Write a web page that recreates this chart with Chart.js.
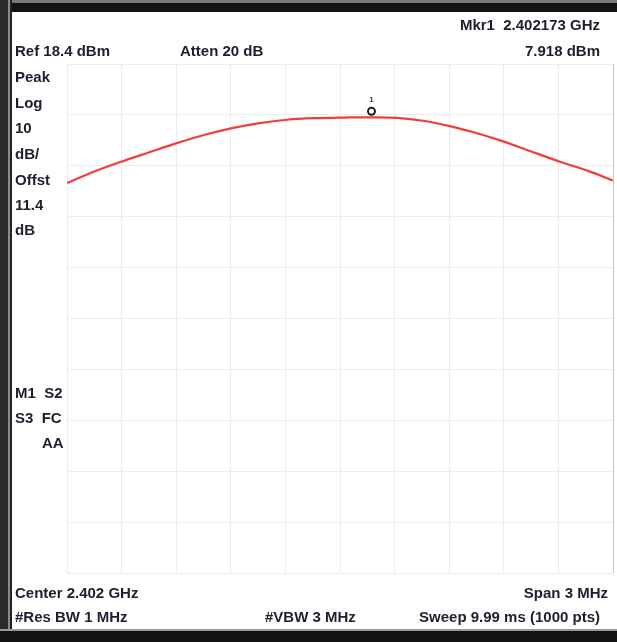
<!DOCTYPE html>
<html>
<head>
<meta charset="utf-8">
<script src="https://cdn.jsdelivr.net/npm/chart.js@4.4.1/dist/chart.umd.min.js"></script>
<style>
  html, body { margin: 0; padding: 0; background: #fff; }
  #wrap { position: relative; width: 617px; height: 642px; overflow: hidden; background: #fff; }
  #myChart { position: absolute; left: 0; top: 0; }
  .frameTop { position: absolute; left: 0; top: 0; width: 617px; height: 3px; background: #7a7a7a; }
  .frameTop2 { position: absolute; left: 0; top: 3px; width: 617px; height: 9px; background: #121212; }
  .frameLeft { position: absolute; left: 0; top: 0; width: 8px; height: 642px; background: #2a2a2a; }
  .frameLeft2 { position: absolute; left: 8px; top: 0; width: 2px; height: 642px; background: #8a8a8a; }
  .frameLeft3 { position: absolute; left: 10px; top: 0; width: 2px; height: 642px; background: #222; }
  .frameBot { position: absolute; left: 0; top: 629px; width: 617px; height: 2px; background: #9a9a9a; }
  .frameBot2 { position: absolute; left: 0; top: 631px; width: 617px; height: 11px; background: #121212; }
  .t { position: absolute; font-family: "Liberation Sans", Arial, sans-serif; font-weight: bold;
       font-size: 15px; color: #1d1f2e; white-space: nowrap; line-height: 18px; }
  .r { text-align: right; }
</style>
</head>
<body>
<div id="wrap">
  <canvas id="myChart" width="617" height="642"></canvas>
  <div class="frameTop"></div><div class="frameTop2"></div>
  <div class="frameLeft"></div><div class="frameLeft2"></div><div class="frameLeft3"></div>
  <div class="frameBot"></div><div class="frameBot2"></div>

  <div class="t r" style="right:17px; top:16px;">Mkr1&nbsp; 2.402173 GHz</div>
  <div class="t" style="left:15px; top:42px;">Ref 18.4 dBm</div>
  <div class="t" style="left:180px; top:42px;">Atten 20 dB</div>
  <div class="t r" style="right:17px; top:42px;">7.918 dBm</div>

  <div class="t" style="left:15px; top:68px;">Peak</div>
  <div class="t" style="left:15px; top:94px;">Log</div>
  <div class="t" style="left:15px; top:119px;">10</div>
  <div class="t" style="left:15px; top:145px;">dB/</div>
  <div class="t" style="left:15px; top:171px;">Offst</div>
  <div class="t" style="left:15px; top:196px;">11.4</div>
  <div class="t" style="left:15px; top:221px;">dB</div>

  <div class="t" style="left:15px; top:384px;">M1&nbsp; S2</div>
  <div class="t" style="left:15px; top:409px;">S3&nbsp; FC</div>
  <div class="t" style="left:42px; top:434px;">AA</div>

  <div class="t" style="left:15px; top:584px;">Center 2.402 GHz</div>
  <div class="t r" style="right:9px; top:584px;">Span 3 MHz</div>
  <div class="t" style="left:15px; top:608px;">#Res BW 1 MHz</div>
  <div class="t" style="left:265px; top:608px;">#VBW 3 MHz</div>
  <div class="t r" style="right:17px; top:608px;">Sweep 9.99 ms (1000 pts)</div>
</div>
<script>
// trace, frequency in MHz, level in dBm
let freqs = [2400.5, 2400.643, 2400.797, 2400.956, 2401.099, 2401.247, 2401.407, 2401.56,
             2401.709, 2401.852, 2402.0, 2402.055, 2402.173, 2402.313, 2402.456, 2402.604,
             2402.753, 2402.896, 2403.044, 2403.209, 2403.374, 2403.5];
let levels = [-5.0, -2.8, -0.8, 1.1, 2.8, 4.4, 5.8, 6.8,
              7.45, 7.75, 7.85, 7.9, 7.918, 7.8, 7.25, 6.2,
              4.8, 3.2, 1.3, -0.8, -2.75, -4.5];

// 10 divisions each way: span 3 MHz, 10 dB/div from ref 18.4 dBm
let xTicks = [2400.5, 2400.8, 2401.1, 2401.4, 2401.7, 2402.0, 2402.3, 2402.6, 2402.9, 2403.2, 2403.5];
let yTicks = [-81.6, -71.6, -61.6, -51.6, -41.6, -31.6, -21.6, -11.6, -1.6, 8.4, 18.4];

let mkrFreq = 2402.173;
let mkrLevel = 7.918;

const markerPlugin = {
  id: 'marker1',
  afterDatasetsDraw(chart) {
    const c = chart.ctx;
    const px = chart.scales.x.getPixelForValue(mkrFreq);
    const py = chart.scales.y.getPixelForValue(mkrLevel) - 6;
    c.save();
    c.beginPath();
    c.arc(px, py, 3.5, 0, Math.PI * 2);
    c.lineWidth = 2;
    c.strokeStyle = '#1a1a1a';
    c.stroke();
    c.fillStyle = '#444';
    c.font = 'bold 8px "Liberation Sans", Arial, sans-serif';
    c.textAlign = 'center';
    c.textBaseline = 'bottom';
    c.fillText('1', px, py - 8);
    c.restore();
  }
};

function gridOpts(n) {
  return {
    color: ctx => (ctx.index === n - 1 ? '#c9c9c9' : '#ececec'),
    lineWidth: 1,
    drawTicks: false
  };
}

var ctx = document.getElementById('myChart').getContext('2d');
var chart = new Chart(ctx, {
  type: 'line',
  data: {
    datasets: [{
      data: freqs.map((f, i) => ({ x: f, y: levels[i] })),
      borderColor: '#f23d3d',
      borderWidth: 2.2,
      pointRadius: 0,
      tension: 0.3,
      fill: false
    }]
  },
  options: {
    responsive: false,
    animation: false,
    layout: { padding: { left: 67, top: 64, right: 4, bottom: 69 } },
    plugins: { legend: { display: false }, tooltip: { enabled: false } },
    scales: {
      x: {
        type: 'linear', min: 2400.5, max: 2403.5,
        afterBuildTicks: s => { s.ticks = xTicks.map(v => ({ value: v })); },
        ticks: { display: false },
        border: { display: false },
        grid: gridOpts(xTicks.length)
      },
      y: {
        type: 'linear', min: -81.6, max: 18.4,
        afterBuildTicks: s => { s.ticks = yTicks.map(v => ({ value: v })); },
        ticks: { display: false },
        border: { display: false },
        grid: { color: '#ececec', lineWidth: 1, drawTicks: false }
      }
    }
  },
  plugins: [markerPlugin]
});
</script>
</body>
</html>
